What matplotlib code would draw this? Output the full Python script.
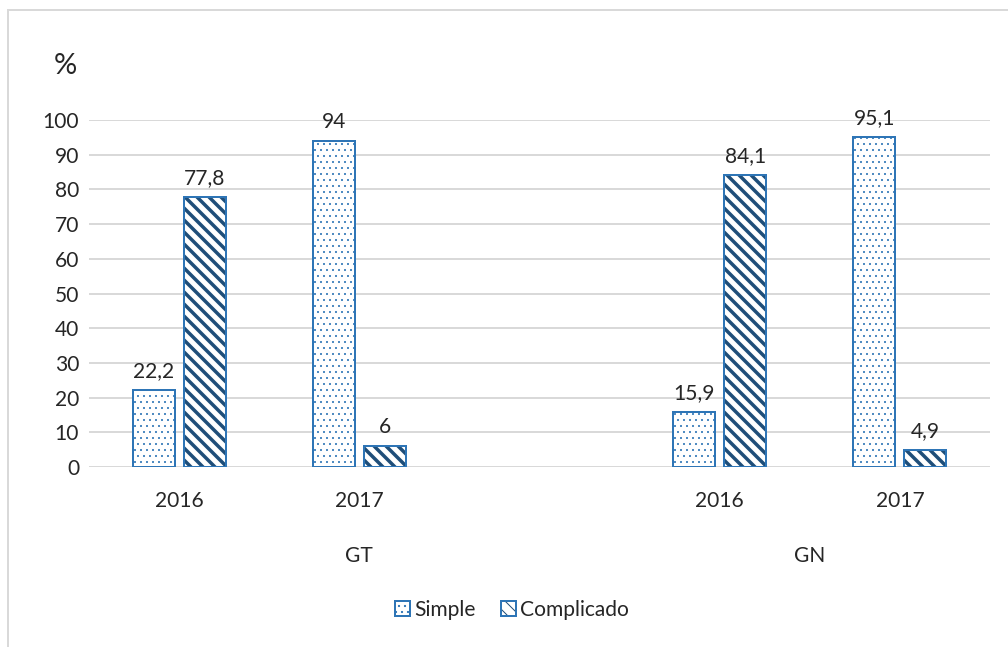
import numpy as np
import matplotlib
matplotlib.use("Agg")
import matplotlib.pyplot as plt
from matplotlib.patches import Patch, Rectangle
from matplotlib.legend_handler import HandlerTuple

plt.rcParams['font.family'] = ['Lato', 'DejaVu Sans']

# datos
groups = ["GT", "GN"]
group_pos = [1, 3.5]             # GT abarca 0..2 (con el hueco), GN 3..4
years = ["2016", "2017", "2016", "2017"]
year_pos = [0, 1, 3, 4]          # posición 2 queda vacía entre grupos
simple = [22.2, 94, 15.9, 95.1]
complicado = [77.8, 6, 84.1, 4.9]

blue = "#2E75B6"
navy = "#1F4E79"
grid_c = "#D9D9D9"
txt = "#262626"
fs = 21

fig = plt.figure(figsize=(1008 / 72, 647 / 72), dpi=72)
ax = fig.add_axes([89 / 1008, 1 - 467 / 647, 901 / 1008, 347 / 647])

# marco exterior del gráfico
fig.patches.append(Rectangle((8 / 1008, -0.1), 1.2, 1 - 10 / 647 + 0.1,
                             transform=fig.transFigure, fill=False,
                             edgecolor="#D9D9D9", lw=2))

x = np.array(year_pos, dtype=float)
w = 0.233
off = 0.142


def set_hlw(artists, lw):
    for a in artists:
        if hasattr(a, "set_hatch_linewidth"):
            a.set_hatch_linewidth(lw)


b1 = ax.bar(x - off, simple, w, color="white", edgecolor=blue, lw=2,
            hatch="..", zorder=3)
set_hlw(b1, 0.8)
b2 = ax.bar(x + off, complicado, w, color="white", edgecolor=navy, lw=0,
            hatch="\\\\", zorder=3)
set_hlw(b2, 3.5)
ax.bar(x + off, complicado, w, fill=False, edgecolor=blue, lw=2, zorder=4)


def fmt(v):
    s = ("%.1f" % v).replace(".", ",")
    return s[:-2] if s.endswith(",0") else s


for xs, vals in ((x - off, simple), (x + off, complicado)):
    for xi, v in zip(xs, vals):
        ax.annotate(fmt(v), (xi, v), xytext=(0, 9), textcoords="offset points",
                    ha="center", va="bottom", fontsize=fs, color=txt,
                    annotation_clip=False)

ax.set_xlim(-0.5, 4.5)
ax.set_ylim(0, 100)
ax.set_yticks(range(0, 101, 10))
ax.tick_params(axis="y", length=0, pad=10, labelsize=fs, labelcolor=txt)
ax.set_xticks([])
ax.grid(axis="y", color=grid_c, lw=2, zorder=0)
ax.set_axisbelow(True)
for s in ax.spines.values():
    s.set_visible(False)

# etiquetas de años y de grupos
for xi, yr in zip(year_pos, years):
    ax.annotate(yr, (xi, 0), xycoords=("data", "axes fraction"),
                xytext=(0, -34), textcoords="offset points",
                ha="center", va="center", fontsize=fs, color=txt)
for xi, g in zip(group_pos, groups):
    ax.annotate(g, (xi, 0), xycoords=("data", "axes fraction"),
                xytext=(0, -89), textcoords="offset points",
                ha="center", va="center", fontsize=fs, color=txt)

fig.text(65 / 1008, 1 - 66 / 647, "%", fontsize=29, ha="center", va="center",
         color=txt)

h_simple = Patch(facecolor="white", edgecolor=blue, lw=2, hatch="..")
h_comp_fill = Patch(facecolor="white", edgecolor=navy, lw=0, hatch="\\\\")
h_comp_edge = Patch(fill=False, edgecolor=blue, lw=2)
set_hlw([h_simple], 0.8)
set_hlw([h_comp_fill], 3.5)
fig.legend([h_simple, (h_comp_fill, h_comp_edge)], ["Simple", "Complicado"],
           handler_map={tuple: HandlerTuple(ndivide=1, pad=0)},
           loc="center", bbox_to_anchor=(512 / 1008, 1 - 610 / 647), ncol=2,
           frameon=False, fontsize=fs, handlelength=0.7, handleheight=0.7,
           handletextpad=0.2, columnspacing=1.2, labelcolor=txt)

fig.savefig("out.png", dpi=72, facecolor="white")
